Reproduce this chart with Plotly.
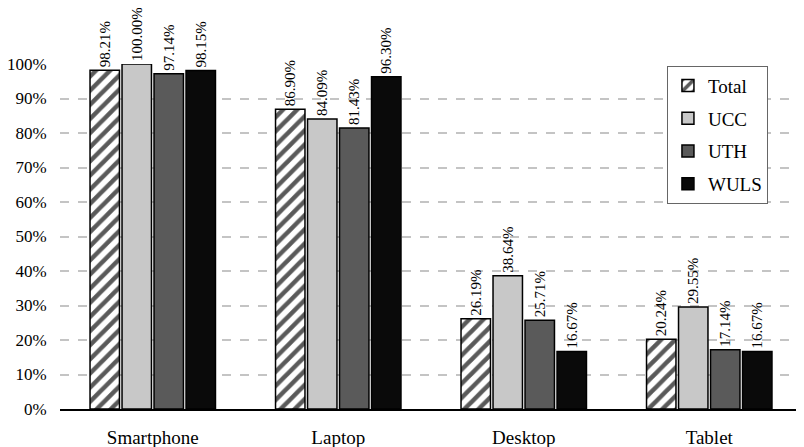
import plotly.graph_objects as go

devices = ["Smartphone", "Laptop", "Desktop", "Tablet"]
total = [98.21, 86.90, 26.19, 20.24]
ucc = [100.00, 84.09, 38.64, 29.55]
uth = [97.14, 81.43, 25.71, 17.14]
wuls = [98.15, 96.30, 16.67, 16.67]

series = [
    ("Total", total, "white"),
    ("UCC", ucc, "#c8c8c8"),
    ("UTH", uth, "#5a5a5a"),
    ("WULS", wuls, "#0a0a0a"),
]

serif = "Liberation Serif"

fig = go.Figure()
for name, vals, color in series:
    marker = dict(color=color, line=dict(color="black", width=1.5))
    if name == "Total":
        marker["pattern"] = dict(shape="/", fgcolor="#5a5a5a", bgcolor="white",
                                 size=10, solidity=0.45, fillmode="replace")
    fig.add_trace(go.Bar(
        name=name, x=devices, y=vals, marker=marker,
        texttemplate="%{y:.2f}%", textposition="outside", textangle=-90,
        textfont=dict(family=serif, size=15, color="black"),
        cliponaxis=False, legendgroup=name,
    ))

# page body has an 8px margin, so the figure is a bit smaller than the window
fig.update_layout(
    width=796, height=439,
    margin=dict(l=52, r=2, t=56, b=38),
    paper_bgcolor="white", plot_bgcolor="white",
    barmode="group", bargap=0.31, bargroupgap=0.08,
    font=dict(family=serif, size=16, color="black"),
    uniformtext=dict(minsize=15, mode="show"),
    legend=dict(
        x=0.818, y=0.995, xanchor="left", yanchor="top",
        bordercolor="#666666", borderwidth=1, bgcolor="white",
        font=dict(family=serif, size=19, color="black"),
        tracegroupgap=5, traceorder="grouped", itemwidth=30,
    ),
    showlegend=True,
)
fig.update_xaxes(
    showline=True, linecolor="black", linewidth=1.5,
    tickfont=dict(family=serif, size=19, color="black"),
    ticks="outside", ticklen=10, tickcolor="rgba(0,0,0,0)", showgrid=False,
    automargin=False,
)
fig.update_yaxes(
    range=[0, 100], dtick=10, ticksuffix="%",
    showgrid=True, gridcolor="#c4c4c4", gridwidth=1.5, griddash="dash",
    zeroline=False, showline=False,
    ticks="outside", ticklen=9, tickcolor="rgba(0,0,0,0)",
    tickfont=dict(family=serif, size=17, color="black"),
    automargin=False,
)

fig.write_html("out.html")
